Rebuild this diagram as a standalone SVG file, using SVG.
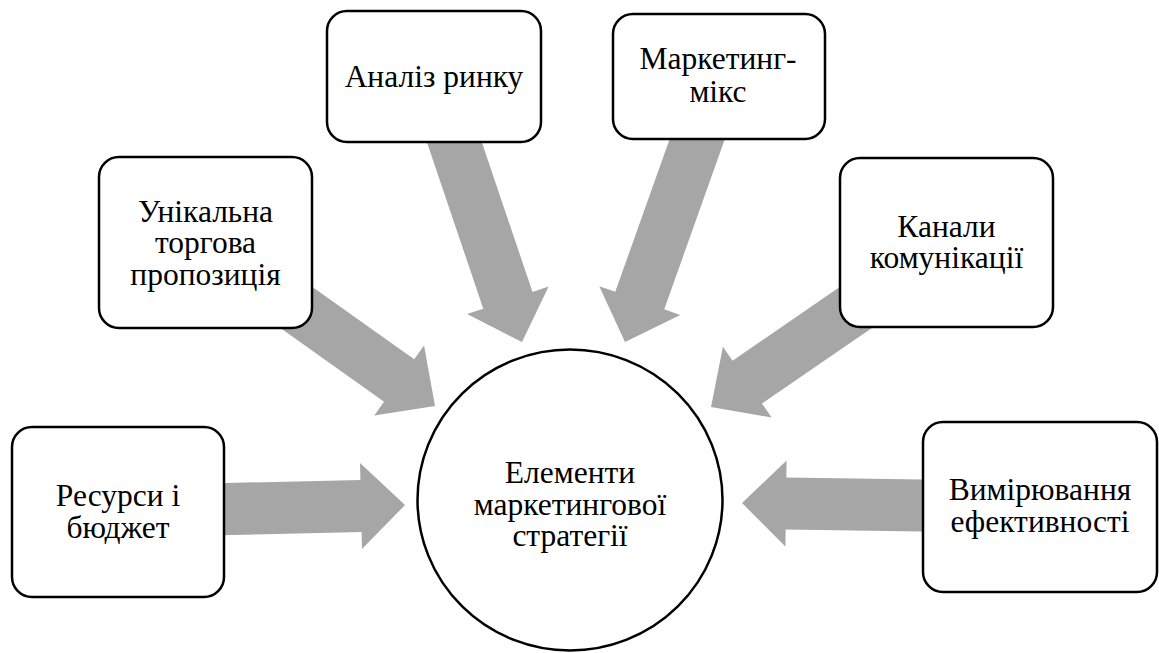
<svg xmlns="http://www.w3.org/2000/svg" xmlns:xlink="http://www.w3.org/1999/xlink" width="1159" height="653" viewBox="0 0 1159 653">
<style>
.box{fill:#fff;stroke:#000;stroke-width:2.5}
.arrow{fill:#A6A6A6;stroke:none}
.t{font-family:"Times New Roman",Times,Tinos,"Liberation Serif","Noto Serif","DejaVu Serif",serif;font-size:31.5px;fill:#000;text-anchor:middle}
</style>
<defs>
<path id="arr" d="M-230,-26 L-44,-26 L-44,-43 L0,0 L-44,43 L-44,26 L-230,26 Z"/>
</defs>
<rect width="1159" height="653" fill="#fff"/>
<g id="connectors">
<use xlink:href="#arr" class="arrow" transform="translate(405,505) rotate(-1.3)"/>
<use xlink:href="#arr" class="arrow" transform="translate(435,406) rotate(35.4)"/>
<use xlink:href="#arr" class="arrow" transform="translate(522,342) rotate(71.3)"/>
<use xlink:href="#arr" class="arrow" transform="translate(625,342) rotate(109.6)"/>
<use xlink:href="#arr" class="arrow" transform="translate(711,407) rotate(145.5)"/>
<use xlink:href="#arr" class="arrow" transform="translate(742,503) rotate(180.8)"/>
</g>
<g id="center">
<ellipse cx="570" cy="500" rx="152.5" ry="150.5" class="box" stroke-width="2"/>
<text class="t" x="570" y="483">Елементи</text>
<text class="t" x="570" y="515">маркетингової</text>
<text class="t" x="570" y="546">стратегії</text>
</g>
<g id="resources">
<rect x="12" y="427" width="212" height="170" rx="20" class="box"/>
<text class="t" x="118" y="506">Ресурси і</text>
<text class="t" x="118" y="538">бюджет</text>
</g>
<g id="usp">
<rect x="99" y="157" width="213" height="171" rx="20" class="box"/>
<text class="t" x="205.5" y="221.5">Унікальна</text>
<text class="t" x="205.5" y="253">торгова</text>
<text class="t" x="205.5" y="284.5">пропозиція</text>
</g>
<g id="market-analysis">
<rect x="327" y="11" width="214" height="131" rx="20" class="box"/>
<text class="t" x="434" y="86.5">Аналіз ринку</text>
</g>
<g id="marketing-mix">
<rect x="613" y="14" width="212" height="125" rx="20" class="box"/>
<text class="t" x="718" y="68.5">Маркетинг-</text>
<text class="t" x="718" y="101.5">мікс</text>
</g>
<g id="channels">
<rect x="840" y="158" width="213" height="169" rx="20" class="box"/>
<text class="t" x="946.5" y="237">Канали</text>
<text class="t" x="946.5" y="268">комунікації</text>
</g>
<g id="measurement">
<rect x="923" y="422" width="234" height="170" rx="20" class="box"/>
<text class="t" x="1040" y="500">Вимірювання</text>
<text class="t" x="1040" y="532">ефективності</text>
</g>
</svg>
